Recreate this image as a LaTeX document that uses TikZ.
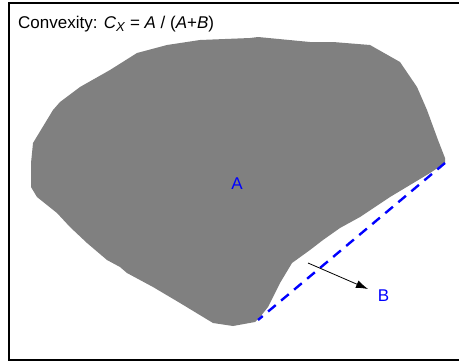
\documentclass[tikz,border=0pt]{standalone}
\usepackage{fontspec}
\setmainfont{Liberation Sans}
\usetikzlibrary{arrows.meta}

\begin{document}
\begin{tikzpicture}[
  x=1pt, y=-1pt,
  font=\fontsize{17}{20}\selectfont,
  frame/.style={draw=black, line width=1.6pt},
  region/.style={fill=black!50, draw=none},
  label/.style={text=blue, inner sep=0pt},
  hull/.style={blue, dashed, line width=2.4pt, dash pattern=on 10pt off 7pt},
  pointer/.style={-{Latex[length=12pt, width=8pt]}, black, line width=0.8pt},
]
\useasboundingbox (0,0) rectangle (459,362);

% Frame (open on the right)
\draw[frame] (470,3) -- (9,3) -- (9,360) -- (470,360);

% Title
\node[anchor=base west, inner sep=0pt] (title) at (18,28)
  {Convexity: \textit{C}\raisebox{-3pt}{\fontsize{13}{13}\selectfont\textit{X}} = \textit{A} / (\textit{A}+\textit{B})};

% Gray region A
\fill[region] (33,143) -- (53,110) -- (60,102) -- (80,87) -- (110,70)
  -- (137,53) -- (167,45) -- (200,40) -- (250,38) -- (258,37) -- (310,42)
  -- (333,42) -- (370,45) -- (400,62) -- (417,87) -- (427,110) -- (438,140)
  -- (445,158) -- (445,163) -- (430,173) -- (390,197) -- (360,217)
  -- (340,228) -- (323,240) -- (310,250) -- (292,263) -- (280,283)
  -- (268,307) -- (260,317) -- (255,322) -- (233,326) -- (213,323)
  -- (180,303) -- (153,287) -- (127,273) -- (120,267) -- (107,260)
  -- (87,243) -- (70,227) -- (57,213) -- (37,197) -- (31,187) -- (31,163)
  -- cycle;

% Convex hull edge
\coordinate (hullTop) at (445,163);
\coordinate (hullBot) at (258,320);
\draw[hull] (hullTop) -- (hullBot);

% Labels
\node[label] (lblA) at (237,183.5) {A};
\node[label] (lblB) at (383.5,295.5) {B};

% Arrow towards B
\coordinate (arrStart) at (308,263);
\coordinate (arrEnd) at (368,289);
\draw[pointer] (arrStart) -- (arrEnd);

\end{tikzpicture}
\end{document}
